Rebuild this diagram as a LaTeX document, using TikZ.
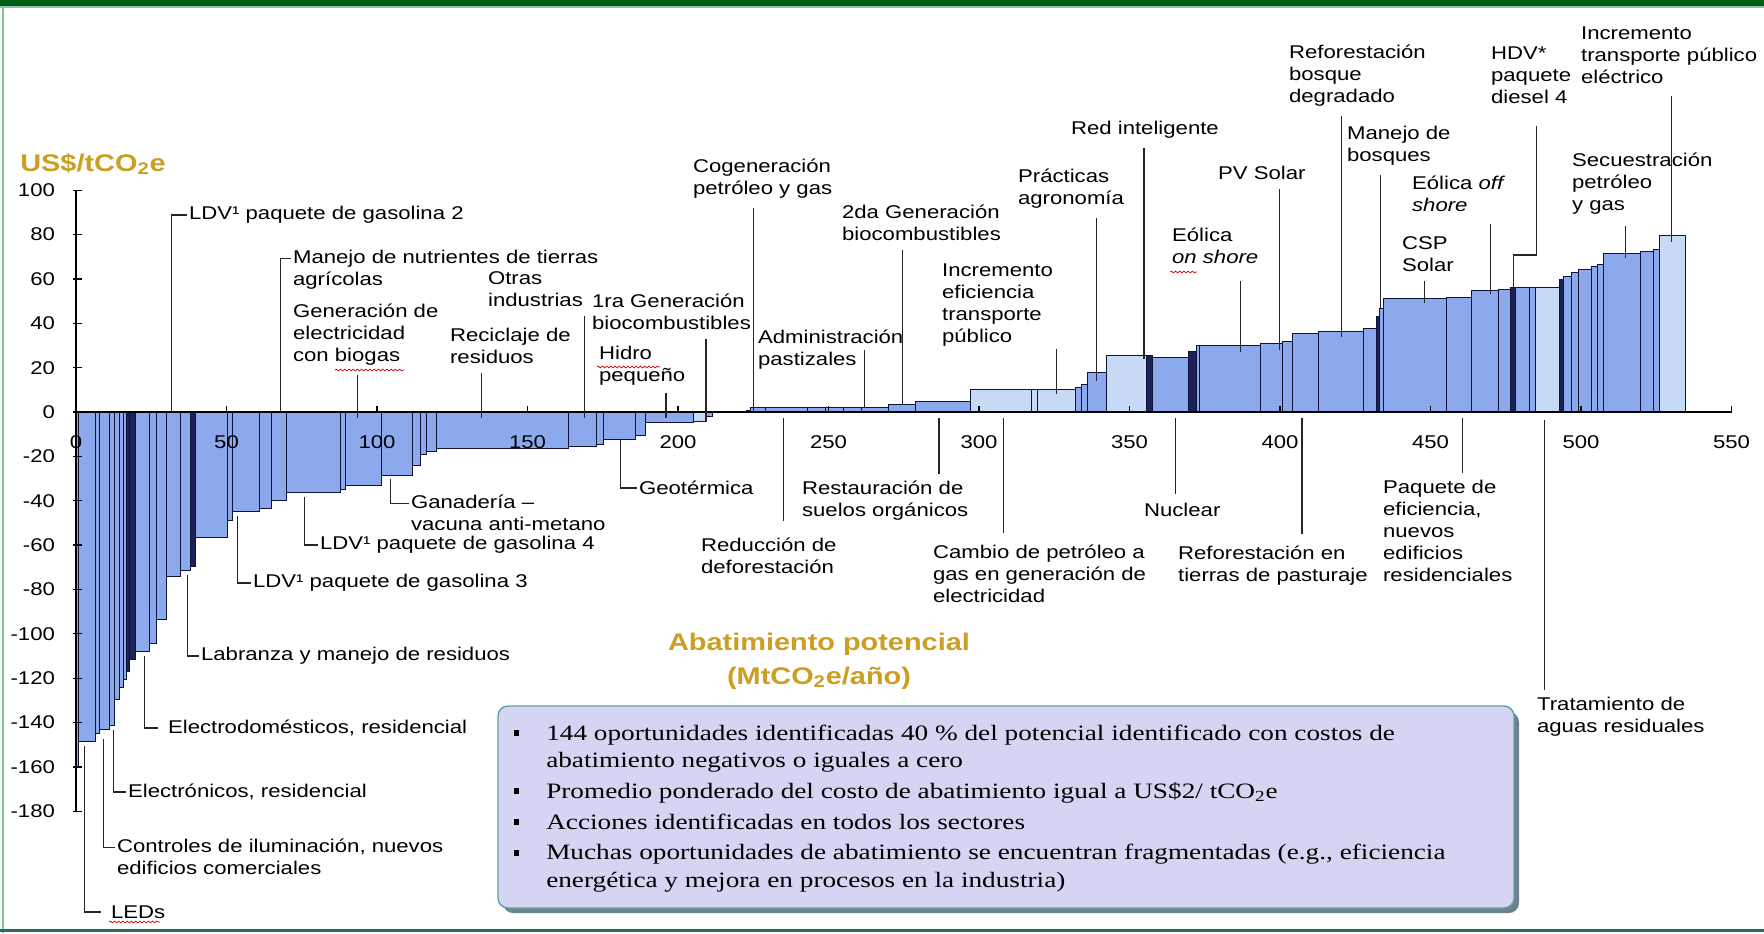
\documentclass[tikz,border=0pt]{standalone}
\usepackage{fontspec}
\setmainfont{Liberation Sans}[FakeStretch=1.2]
\newfontfamily\notefont{Liberation Serif}[FakeStretch=1.24]
\usepackage{tikz}
\usetikzlibrary{decorations.pathmorphing}
\definecolor{BarMid}{RGB}{141, 169, 237}
\definecolor{BarLight}{RGB}{198, 218, 246}
\definecolor{BarDark}{RGB}{28, 34, 88}
\definecolor{BarEdge}{RGB}{15, 20, 55}
\definecolor{Gold}{RGB}{204, 158, 34}
\definecolor{FrameDark}{RGB}{0, 95, 20}
\definecolor{FrameLight}{RGB}{120, 200, 140}
\definecolor{FrameTeal}{RGB}{40, 110, 90}
\definecolor{NoteFill}{RGB}{213, 213, 243}
\definecolor{NoteEdge}{RGB}{85, 165, 165}
\definecolor{NoteShadow}{RGB}{110, 130, 140}
\newcommand{\lblfont}{\fontsize{10.5}{12.5}\selectfont}
\newcommand{\titlefont}{\fontsize{13.7}{19.3}\selectfont\bfseries}
\newcommand{\notesize}{\notefont\fontsize{12.5}{15.5}\selectfont}
\newcommand{\sqbullet}{\rule[2.4pt]{2.8pt}{3.4pt}}

\begin{document}
\begin{tikzpicture}[x=0.2mm, y=-0.2mm,
    bar/.style={draw=BarEdge, line width=0.55pt},
    axisline/.style={draw=black, line width=0.7pt},
    lead/.style={draw=black!85, line width=0.6pt},
    lbl/.style={font=\lblfont, align=left, inner sep=1pt, anchor=west},
    axlbl/.style={font=\lblfont, inner sep=1pt},
    title/.style={font=\titlefont, text=Gold, inner sep=0pt, align=center},
    squig/.style={draw=red!80!black, line width=0.4pt, decorate,
      decoration={snake, amplitude=0.5pt, segment length=2.4pt}}]
    \useasboundingbox (0,0) rectangle (1764,933);
    \fill[white] (0,0) rectangle (1764,933);
    \fill[FrameDark] (0,0) rectangle (1764,6);
    \fill[FrameDark!40] (0,6) rectangle (1764,8);
    \draw[FrameLight, line width=0.5mm] (3,8) -- (3,933);
    \draw[FrameTeal, line width=0.6mm] (0,930) -- (1764,930);

    \begin{scope}[shift={(76,412)}, x=0.602mm, y=0.4436mm]
        \foreach \xa/\xb/\v/\c in {0/0.9/-160/BarMid, 0.9/6.5/-148.5/BarMid,
            6.5/7.8/-145/BarMid, 7.8/11.2/-143/BarMid, 11.2/12.9/-141.5/BarMid,
            12.9/14.5/-129.5/BarMid, 14.5/15.7/-124/BarMid, 15.7/16.8/-120.5/BarMid,
            16.8/17.9/-117/BarDark, 17.9/19.6/-111.5/BarDark, 19.6/24.4/-108/BarMid,
            24.4/26.8/-104.5/BarMid, 26.8/29.9/-93.5/BarMid, 29.9/34.7/-74/BarMid,
            34.7/38/-71.5/BarMid, 38/39.7/-69.5/BarDark, 39.7/50.3/-56.5/BarMid,
            50.3/52/-49/BarMid, 52/61/-45/BarMid, 61/64.9/-43.5/BarMid,
            64.9/69.9/-40/BarMid, 69.9/87.8/-36.5/BarMid, 87.8/89.5/-35/BarMid,
            89.5/101.4/-33/BarMid, 101.4/111.8/-28.5/BarMid, 111.8/114.4/-24/BarMid,
            114.4/116.6/-19/BarMid, 116.6/119.6/-17.6/BarMid, 119.6/163.5/-16.6/BarMid,
            163.5/173/-15.6/BarMid, 173/175.2/-14.8/BarMid, 175.2/186/-12.2/BarMid,
            186/189.2/-10.6/BarMid, 189.2/205/-4.6/BarMid, 205/209.5/-4.2/BarLight,
            209.5/211.4/-1.8/BarMid,
            222.9/224.1/0.8/BarMid, 224.1/229/2/BarMid, 229/243/2/BarMid,
            243/249/2/BarMid, 249/255/2/BarMid, 255/261/2/BarMid, 261/269.9/2/BarMid,
            269.9/278.8/3.6/BarMid, 278.8/297.2/4.8/BarMid, 297.2/317.5/10/BarLight,
            317.5/319.4/10/BarLight, 319.4/332/10/BarLight, 332/334/11/BarMid,
            334/336/12.5/BarMid, 336/342.3/18/BarMid, 342.3/355.7/25.3/BarLight,
            355.7/357.6/25.3/BarDark, 357.6/369.7/24.8/BarMid, 369.7/372.2/27.4/BarDark,
            372.2/373.3/30/BarMid, 373.3/393.6/30/BarMid, 393.6/400.8/31.1/BarMid,
            400.8/404/32/BarMid, 404/412.9/35.6/BarMid, 412.9/427.8/36.5/BarMid,
            427.8/432/37.6/BarMid, 432/433.2/43/BarDark, 433.2/434.5/46.6/BarMid,
            434.5/455.2/51/BarMid, 455.2/463.7/51.7/BarMid, 463.7/472.6/54.6/BarMid,
            472.6/476.4/55.3/BarMid, 476.4/478.3/56.1/BarDark, 478.3/482.8/56.1/BarMid,
            482.8/484.7/56.1/BarMid, 484.7/492.7/56.1/BarLight, 492.7/494.2/59.8/BarDark,
            494.2/496.8/60.9/BarMid, 496.8/499/62.7/BarMid, 499/503.5/64.4/BarMid,
            503.5/505.6/65.4/BarMid, 505.6/507.6/66.5/BarMid, 507.6/519.6/71.4/BarMid,
            519.6/524.1/72.5/BarMid, 524.1/526/73.4/BarMid, 526/534.7/79.7/BarLight}
            \filldraw[bar, fill=\c] (\xa,0) rectangle (\xb,\v);

        \draw[axisline] (0,100) -- (0,-180);
        \draw[axisline] (0,0) -- (550,0);
        \foreach \v in {100,80,...,-180} {
            \draw[axisline] (-1,\v) -- (2,\v);
            \node[axlbl, anchor=east] (yl\v) at (-6.3,\v) {\v};
        }
        \foreach \d in {50,100,...,550}
            \draw[axisline] (\d,0) -- (\d,2.7);
        \foreach \d in {0,50,...,550}
            \node[axlbl] (xl\d) at (\d,-13.5) {\d};

        \coordinate (c-ldv2) at (31.6,0);
        \coordinate (c-manejo) at (68,0);
        \coordinate (c-biogas) at (93.5,-2.7);
        \coordinate (c-recic) at (134.6,-2.7);
        \coordinate (c-otras) at (169,-2.7);
        \coordinate (c-gen1) at (209.3,-4.5);
        \coordinate (c-hidro) at (196,-2.7);
        \coordinate (c-geot) at (181,-12.2);
        \coordinate (c-cogen) at (225,0);
        \coordinate (c-admin) at (262,2);
        \coordinate (c-gen2) at (274.7,3.6);
        \coordinate (c-incef) at (325.6,8);
        \coordinate (c-pract) at (339,14);
        \coordinate (c-red) at (354.8,24);
        \coordinate (c-eolon) at (387,27);
        \coordinate (c-pv) at (399.7,28);
        \coordinate (c-refdeg) at (420.5,34);
        \coordinate (c-manbos) at (433.5,46.6);
        \coordinate (c-hdvA) at (485.3,70.8);
        \coordinate (c-hdvB) at (477.7,56.1);
        \coordinate (c-incpub) at (530.2,76.5);
        \coordinate (c-eoloff) at (469.8,53);
        \coordinate (c-csp) at (448,49);
        \coordinate (c-secu) at (514.8,69.5);
        \coordinate (c-ganad) at (104.6,-28.5);
        \coordinate (c-ldv4) at (76,-36.5);
        \coordinate (c-ldv3) at (53.8,-45);
        \coordinate (c-labr) at (37,-71.5);
        \coordinate (c-edom) at (22.9,-108);
        \coordinate (c-etron) at (12.6,-141.5);
        \coordinate (c-ctrl) at (9,-143);
        \coordinate (c-leds) at (2.7,-148.5);
        \coordinate (c-reduc) at (235.2,-2.7);
        \coordinate (c-resta) at (286.7,-2.7);
        \coordinate (c-cambio) at (308,-2.7);
        \coordinate (c-nucl) at (365.4,-2.7);
        \coordinate (c-refpas) at (407.3,-2.7);
        \coordinate (c-paq) at (460.5,-2.7);
        \coordinate (c-trat) at (488,-3.6);
    \end{scope}

    \node[title, anchor=west] (ytitle) at (20,164) {US\$/tCO\textsubscript{2}e};
    \node[title] (xtitle) at (819,661) {Abatimiento potencial\\(MtCO\textsubscript{2}e/año)};

    \node[lbl] (ldv2) at (187,215) {LDV¹ paquete de gasolina 2};
    \node[lbl] (manejo) at (291,269.5) {Manejo de nutrientes de tierras\\agrícolas};
    \node[lbl] (biogas) at (291,335) {Generación de\\electricidad\\con biogas};
    \node[lbl] (recic) at (448,346) {Reciclaje de\\residuos};
    \node[lbl] (otras) at (486,289) {Otras\\industrias};
    \node[lbl] (gen1) at (590,311.5) {1ra Generación\\biocombustibles};
    \node[lbl] (hidro) at (597,366) {Hidro\\pequeño};
    \node[lbl] (geot) at (637,488) {Geotérmica};
    \node[lbl] (cogen) at (691,179) {Cogeneración\\petróleo y gas};
    \node[lbl] (admin) at (756,350) {Administración\\pastizales};
    \node[lbl] (gen2) at (840,222.5) {2da Generación\\biocombustibles};
    \node[lbl] (incef) at (940,305.5) {Incremento\\eficiencia\\transporte\\público};
    \node[lbl] (pract) at (1016,189) {Prácticas\\agronomía};
    \node[lbl] (red) at (1069,130) {Red inteligente};
    \node[lbl] (eolon) at (1170,246) {Eólica\\\textit{on shore}};
    \node[lbl] (pv) at (1216,173) {PV Solar};
    \node[lbl] (refdeg) at (1287,75.5) {Reforestación\\bosque\\degradado};
    \node[lbl] (manbos) at (1345,146) {Manejo de\\bosques};
    \node[lbl] (hdv) at (1489,75.5) {HDV*\\paquete\\diesel 4};
    \node[lbl] (incpub) at (1579,55) {Incremento\\transporte público\\eléctrico};
    \node[lbl] (eoloff) at (1410,194) {Eólica \textit{off}\\\textit{shore}};
    \node[lbl] (csp) at (1400,254) {CSP\\Solar};
    \node[lbl] (secu) at (1570,183.5) {Secuestración\\petróleo\\y gas};
    \node[lbl] (ganad) at (409,512.5) {Ganadería –\\vacuna anti-metano};
    \node[lbl] (ldv4) at (318,545) {LDV¹ paquete de gasolina 4};
    \node[lbl] (ldv3) at (251,583) {LDV¹ paquete de gasolina 3};
    \node[lbl] (labr) at (199,656) {Labranza y manejo de residuos};
    \node[lbl] (edom) at (166,728) {Electrodomésticos, residencial};
    \node[lbl] (etron) at (126,792) {Electrónicos, residencial};
    \node[lbl] (ctrl) at (115,857) {Controles de iluminación, nuevos\\edificios comerciales};
    \node[lbl] (leds) at (109,912) {LEDs};
    \node[lbl] (reduc) at (699,556) {Reducción de\\deforestación};
    \node[lbl] (resta) at (800,501) {Restauración de\\suelos orgánicos};
    \node[lbl] (cambio) at (931,573.5) {Cambio de petróleo a\\gas en generación de\\electricidad};
    \node[lbl] (nucl) at (1142,510) {Nuclear};
    \node[lbl] (refpas) at (1176,565.5) {Reforestación en\\tierras de pasturaje};
    \node[lbl] (paq) at (1381,530.5) {Paquete de\\eficiencia,\\nuevos\\edificios\\residenciales};
    \node[lbl] (trat) at (1535,716.5) {Tratamiento de\\aguas residuales};

    \draw[lead] (c-ldv2) |- (ldv2.west);
    \draw[lead] (c-manejo) |- ([yshift=-6pt]manejo.north west);
    \draw[lead, shorten <=1.5mm] (c-biogas |- biogas.south) -- (c-biogas);
    \draw[lead, shorten <=1.5mm] (c-recic |- recic.south) -- (c-recic);
    \draw[lead, shorten <=1.5mm] (c-otras |- otras.south) -- (c-otras);
    \draw[lead, shorten <=1.5mm] (c-gen1 |- gen1.south) -- (c-gen1);
    \draw[lead, shorten <=1mm] (c-hidro |- hidro.south) -- (c-hidro);
    \draw[lead] (c-geot) |- (geot.west);
    \draw[lead, shorten <=1.5mm] (c-cogen |- cogen.south) -- (c-cogen);
    \draw[lead] (c-admin |- admin.center) -- (c-admin);
    \draw[lead, shorten <=1.5mm] (c-gen2 |- gen2.south) -- (c-gen2);
    \draw[lead] (c-incef |- incef.south) -- (c-incef);
    \draw[lead, shorten <=1.5mm] (c-pract |- pract.south) -- (c-pract);
    \draw[lead, shorten <=1.5mm] (c-red |- red.south) -- (c-red);
    \draw[lead, shorten <=3mm] (c-eolon |- eolon.south) -- (c-eolon);
    \draw[lead, shorten <=1.5mm] (c-pv |- pv.south) -- (c-pv);
    \draw[lead, shorten <=1.5mm] (c-refdeg |- refdeg.south) -- (c-refdeg);
    \draw[lead, shorten <=1.5mm] (c-manbos |- manbos.south) -- (c-manbos);
    \draw[lead, shorten <=4mm] (c-hdvA |- hdv.south) -- (c-hdvA) -| (c-hdvB);
    \draw[lead, shorten <=2mm] (c-incpub |- incpub.south) -- (c-incpub);
    \draw[lead, shorten <=2mm] (c-eoloff |- eoloff.south) -- (c-eoloff);
    \draw[lead, shorten <=1.5mm] (c-csp |- csp.south) -- (c-csp);
    \draw[lead, shorten <=2mm] (c-secu |- secu.south) -- (c-secu);
    \draw[lead, shorten <=0.8mm] (c-ganad) |- ([yshift=-6pt]ganad.north west);
    \draw[lead, shorten <=0.8mm] (c-ldv4) |- (ldv4.west);
    \draw[lead, shorten <=0.8mm] (c-ldv3) |- (ldv3.west);
    \draw[lead, shorten <=0.8mm] (c-labr) |- (labr.west);
    \draw[lead, shorten <=0.8mm, shorten >=1.6mm] (c-edom) |- (edom.west);
    \draw[lead, shorten <=0.8mm] (c-etron) |- (etron.west);
    \draw[lead, shorten <=2mm] (c-ctrl) |- ([yshift=-6pt]ctrl.north west);
    \draw[lead, shorten <=1mm, shorten >=1.6mm] (c-leds) |- (leds.west);
    \draw[lead, shorten >=3mm] (c-reduc) -- (c-reduc |- reduc.north);
    \draw[lead, shorten >=1mm] (c-resta) -- (c-resta |- resta.north);
    \draw[lead, shorten >=2mm] (c-cambio) -- (c-cambio |- cambio.north);
    \draw[lead, shorten >=1.5mm] (c-nucl) -- (c-nucl |- nucl.north);
    \draw[lead, shorten >=2mm] (c-refpas) -- (c-refpas |- refpas.north);
    \draw[lead, shorten >=1mm] (c-paq) -- (c-paq |- paq.north);
    \draw[lead, shorten >=1mm] (c-trat) -- (c-trat |- trat.north);

    \draw[squig] (335,370) -- (404,370);
    \draw[squig] (597,367) -- (660,367);
    \draw[squig] (109,922) -- (160,922);
    \draw[squig] (1170,272) -- (1197,272);

    \fill[NoteShadow, rounded corners=2mm] (503,712) rectangle (1519,913);
    \filldraw[fill=NoteFill, draw=NoteEdge, line width=0.8pt, rounded corners=2mm] (498,706) rectangle (1514,908);
    \node[anchor=north west, inner sep=0pt, font=\notesize] (notes) at (514,721) {%
        \begin{tabular}{@{}l@{\hspace{5.4mm}}l@{}}
            \sqbullet & 144 oportunidades identificadas 40 \% del potencial identificado con costos de\\
            & abatimiento negativos o iguales a cero\\[2pt]
            \sqbullet & Promedio ponderado del costo de abatimiento igual a US\$2/ tCO\textsubscript{2}e\\[2pt]
            \sqbullet & Acciones identificadas en todos los sectores\\[2pt]
            \sqbullet & Muchas oportunidades de abatimiento se encuentran fragmentadas (e.g., eficiencia\\
            & energética y mejora en procesos en la industria)
        \end{tabular}};
\end{tikzpicture}
\end{document}
